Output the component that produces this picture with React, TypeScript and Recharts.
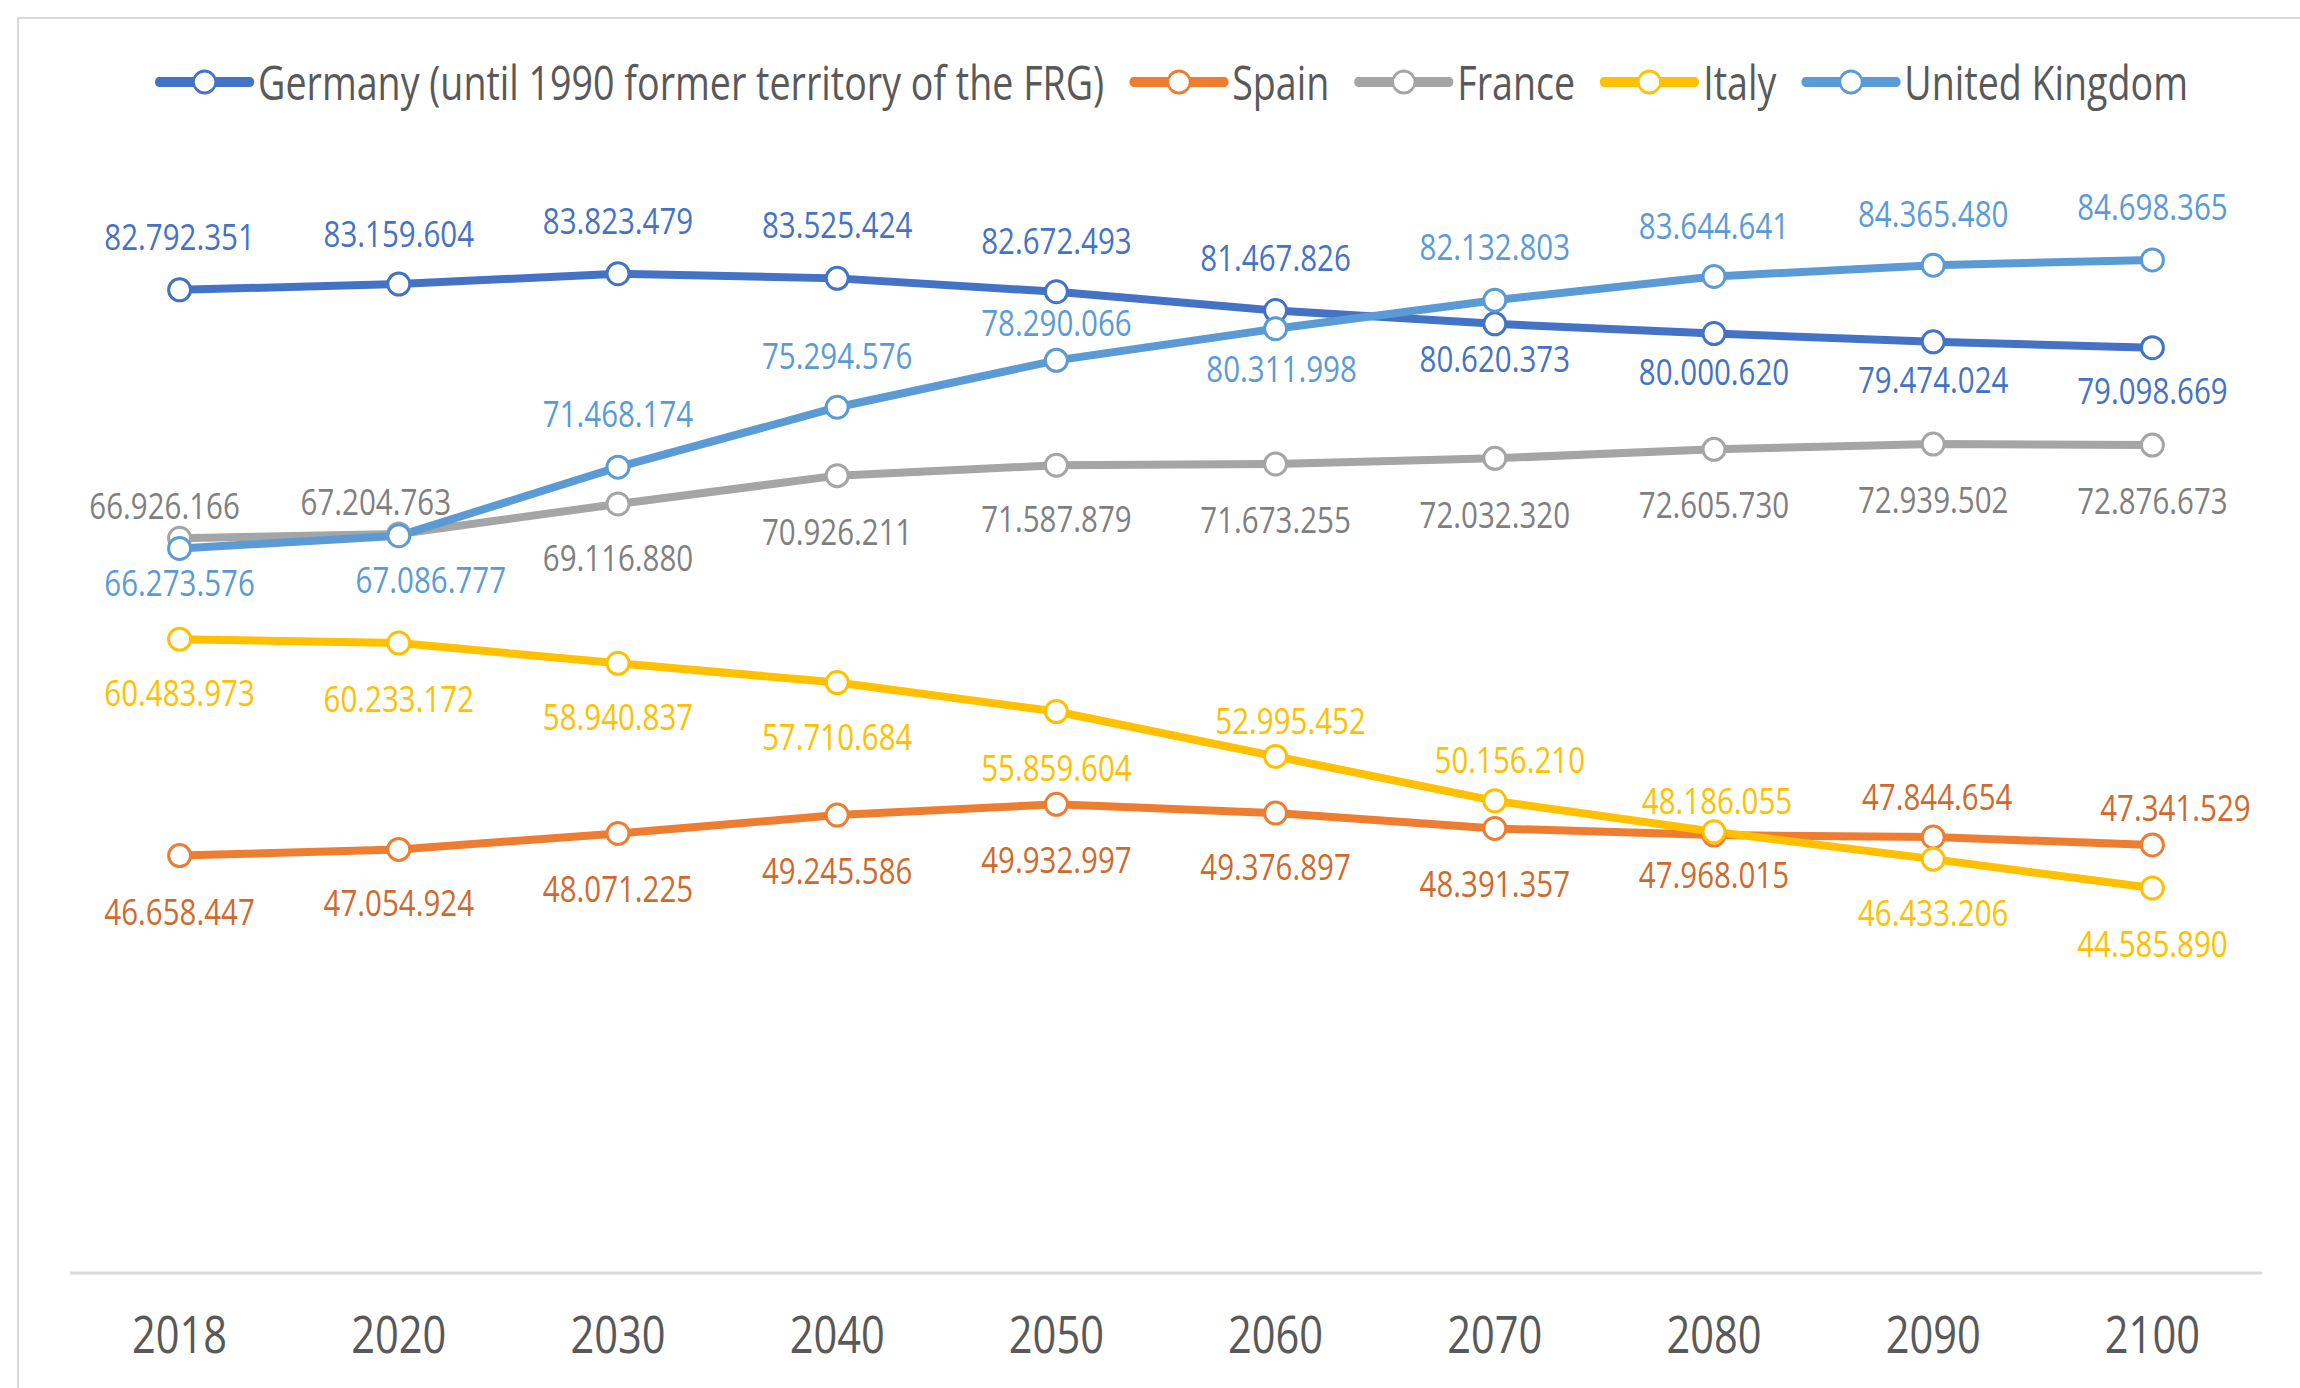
import { LabelList, Legend, Line, LineChart, XAxis, YAxis } from "recharts";

const FONT = "'Open Sans', sans-serif";
// the source uses a narrow face; Open Sans is squeezed horizontally to match it
const SQUEEZE = 0.8;

const years = ["2018", "2020", "2030", "2040", "2050", "2060", "2070", "2080", "2090", "2100"];

const germany = [82792351, 83159604, 83823479, 83525424, 82672493, 81467826, 80620373, 80000620, 79474024, 79098669];
const spain = [46658447, 47054924, 48071225, 49245586, 49932997, 49376897, 48391357, 47968015, 47844654, 47341529];
const france = [66926166, 67204763, 69116880, 70926211, 71587879, 71673255, 72032320, 72605730, 72939502, 72876673];
const italy = [60483973, 60233172, 58940837, 57710684, 55859604, 52995452, 50156210, 48186055, 46433206, 44585890];
const unitedKingdom = [66273576, 67086777, 71468174, 75294576, 78290066, 80311998, 82132803, 83644641, 84365480, 84698365];

// label placement (offset from the marker, px), kept apart from the values
const germanyLabelDy = [-53, -50, -53, -53, -51, -53, 35, 38, 38, 43];
const spainLabelDy = [56, 54, 56, 56, 56, 54, 56, 40, -40, -37];
const spainLabelDx = [0, 0, 0, 0, 0, 0, 0, 0, 4, 23];
const franceLabelDy = [-32, -32, 54, 56, 54, 56, 57, 56, 56, 56];
const franceLabelDx = [-15, -23, 0, 0, 0, 0, 0, 0, 0, 0];
const italyLabelDy = [54, 56, 54, 54, 56, -35, -41, -31, 54, 56];
const italyLabelDx = [0, 0, 0, 0, 0, 15, 15, 3, 0, 0];
const ukLabelDy = [35, 44, -53, -51, -37, 40, -53, -51, -51, -53];
const ukLabelDx = [0, 32, 0, 0, 0, 6, 0, 0, 0, 0];
const noDx = [0, 0, 0, 0, 0, 0, 0, 0, 0, 0];

const series = [
  { key: "germany", name: "Germany (until 1990 former territory of the FRG)", color: "#4472C4", labelColor: "#4472C4", dy: germanyLabelDy, dx: noDx },
  { key: "spain", name: "Spain", color: "#ED7D31", labelColor: "#CF6A2C", dy: spainLabelDy, dx: spainLabelDx },
  { key: "france", name: "France", color: "#A5A5A5", labelColor: "#7F7F7F", dy: franceLabelDy, dx: franceLabelDx },
  { key: "italy", name: "Italy", color: "#FFC000", labelColor: "#FFC000", dy: italyLabelDy, dx: italyLabelDx },
  { key: "uk", name: "United Kingdom", color: "#5B9BD5", labelColor: "#5B9BD5", dy: ukLabelDy, dx: ukLabelDx },
];

const data = years.map((year, i) => ({
  year,
  germany: germany[i],
  spain: spain[i],
  france: france[i],
  italy: italy[i],
  uk: unitedKingdom[i],
}));

const fmt = (v: number) => String(v).replace(/\B(?=(\d{3})+(?!\d))/g, ".");

const makeLabel = (color: string, dys: number[], dxs: number[]) => (props: any) => {
  const { x, y, index, value } = props;
  return (
    <text
      transform={`translate(${x + dxs[index]},${y + dys[index] + 13}) scale(${SQUEEZE + 0.02},1)`}
      textAnchor="middle"
      fill={color}
      fontSize={36}
      fontFamily={FONT}
    >
      {fmt(value)}
    </text>
  );
};

const YearTick = (props: any) => {
  const { x, y, payload } = props;
  return (
    <text
      transform={`translate(${x},${y}) scale(${SQUEEZE},1)`}
      dy="0.71em"
      textAnchor="middle"
      fill="#595959"
      fontSize={52}
      fontFamily={FONT}
    >
      {payload.value}
    </text>
  );
};

const renderLegend = () => (
  <div
    style={{
      display: "flex",
      justifyContent: "center",
      alignItems: "center",
      height: 60,
      fontFamily: FONT,
      fontSize: 47,
      color: "#595959",
      transform: `scaleX(${SQUEEZE})`,
      transformOrigin: "center center",
    }}
  >
    {series.map((s) => (
      <div key={s.key} style={{ display: "flex", alignItems: "center", marginRight: 30 }}>
        <svg width={126} height={34}>
          <line x1={6} y1={17} x2={120} y2={17} stroke={s.color} strokeWidth={10} strokeLinecap="round" />
          <ellipse cx={63} cy={17} rx={11 / SQUEEZE} ry={11} fill="#fff" stroke={s.color} strokeWidth={3} />
        </svg>
        <span style={{ marginLeft: 4, whiteSpace: "nowrap", lineHeight: 1 }}>{s.name}</span>
      </div>
    ))}
  </div>
);

export default function App() {
  return (
    <div style={{ position: "absolute", left: 0, top: 0, width: 2300, height: 1388, background: "#fff", overflow: "hidden" }}>
      <div
        style={{
          position: "absolute",
          left: 17,
          top: 17,
          width: 2300,
          height: 1400,
          borderTop: "2px solid #d9d9d9",
          borderLeft: "2px solid #d9d9d9",
        }}
      />
      <div style={{ position: "absolute", left: 0, top: 0 }}>
        <LineChart width={2300} height={1388} data={data} margin={{ top: 177, right: 38, left: 70, bottom: 35 }}>
          <XAxis
            dataKey="year"
            padding={{ left: 109.6, right: 109.6 }}
            axisLine={{ stroke: "#d9d9d9", strokeWidth: 3 }}
            tickLine={false}
            tickMargin={37}
            height={80}
            tick={<YearTick />}
          />
          <YAxis hide domain={[20000000, 90000000]} />
          <Legend
            verticalAlign="middle"
            align="center"
            layout="horizontal"
            content={renderLegend}
            wrapperStyle={{ top: 52, left: 54, width: 2258 }}
          />
          {series.map((s) => (
            <Line
              key={s.key}
              dataKey={s.key}
              name={s.name}
              stroke={s.color}
              strokeWidth={8}
              dot={{ r: 11, fill: "#fff", stroke: s.color, strokeWidth: 3 }}
              activeDot={false}
              isAnimationActive={false}
            >
              <LabelList dataKey={s.key} content={makeLabel(s.labelColor, s.dy, s.dx)} />
            </Line>
          ))}
        </LineChart>
      </div>
    </div>
  );
}
